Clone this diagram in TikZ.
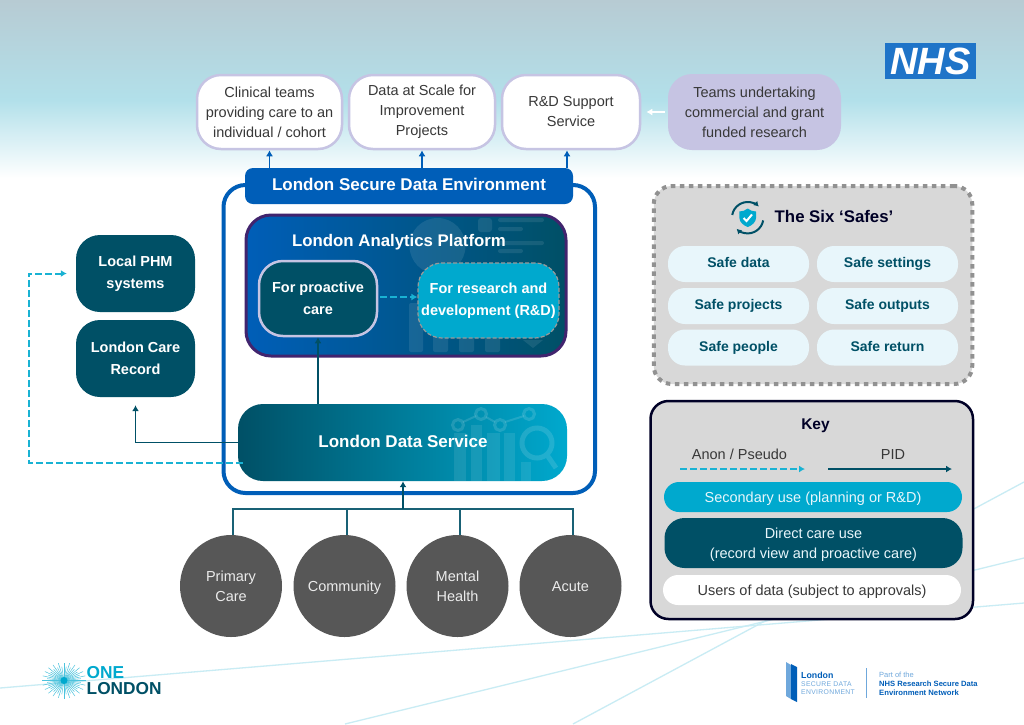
\documentclass[tikz,border=0pt]{standalone}
\usepackage{fontspec}
\setmainfont{Liberation Sans}
\usepackage{tikz}
\usetikzlibrary{arrows.meta}
\definecolor{nhsblue}{HTML}{005EB8}
\definecolor{logoblue}{HTML}{1F74C8}
\definecolor{deepteal}{HTML}{005066}
\definecolor{brightteal}{HTML}{00A9CE}
\definecolor{lavender}{HTML}{C6C4E3}
\definecolor{plum}{HTML}{41246E}
\definecolor{slate}{HTML}{575757}
\definecolor{panel}{HTML}{D8D8D8}
\definecolor{icewhite}{HTML}{E8F6FB}
\definecolor{skyline}{HTML}{C9ECF4}
\definecolor{bodytext}{HTML}{383838}
\definecolor{skytop}{HTML}{B7CBD3}
\definecolor{skymid}{HTML}{B2E0EA}
\definecolor{softblue}{HTML}{6FA8DC}
\begin{document}
\begin{tikzpicture}
    [
    x=1pt,y=-1pt,
    every node/.style={inner sep=0pt,align=center},
    body/.style={font=\fontsize{14.5}{20}\selectfont},
    strong/.style={font=\fontsize{14.5}{22}\selectfont\bfseries},
    userbox/.style={body,draw=lavender,line width=2.5pt,fill=white,rounded corners=24pt,text=bodytext,minimum height=74pt},
    carebox/.style={strong,fill=deepteal,text=white,rounded corners=24pt,minimum width=119pt,minimum height=77pt},
    safepill/.style={font=\fontsize{14}{16}\selectfont\bfseries,fill=icewhite,text=deepteal,rounded corners=17pt,minimum width=141pt,minimum height=36pt,text height=10.2pt,text depth=3pt},
    keypill/.style={body,rounded corners=15pt,minimum width=298pt,text depth=0pt},
    site/.style={circle,body,fill=slate,text=white!92!black,minimum size=102pt},
    flow/.style={line width=1.9pt,-{Latex[length=6pt,width=7pt]}},
    dataline/.style={line width=1.9pt,draw=deepteal!90!white},
    dashflow/.style={flow,line width=2pt,draw=brightteal!90!white,dash pattern=on 7pt off 3pt},
    ghost/.style={draw=none,fill=white,fill opacity=0.09},
    ghostline/.style={draw=white,draw opacity=0.13,fill=none},
    ]
    \useasboundingbox (0,0) rectangle (1024,724);
    \fill [white] (0,0) rectangle (1024,724);
    \shade [top color=skytop,bottom color=skymid] (0,0) rectangle (1024,100);
    \shade [top color=skymid,bottom color=white] (0,100) rectangle (1024,178);

    \draw [skyline,line width=1.3pt] (0,688) -- (1024,603);
    \draw [skyline,line width=1.3pt] (345,724) -- (1024,558);
    \draw [skyline,line width=1.3pt] (573,724) -- (1024,482);

    \node (nhs) at (930.5,61) [fill=logoblue,text=white,minimum width=91pt,minimum height=36pt,text height=26pt,text depth=0pt,font=\fontsize{38}{38}\selectfont\bfseries\itshape] {NHS};

    \node (clin) at (269.5,112) [userbox,minimum width=145pt] {Clinical teams\\providing care to an\\individual / cohort};
    \node (scale) at (422,112) [userbox,minimum width=146pt] {Data at Scale for\\Improvement\\Projects};
    \node (sup) at (571,112) [userbox,minimum width=138pt] {R\&D Support\\Service};
    \node (teams) at (754.5,112) [body,fill=lavender,text=bodytext,rounded corners=24pt,minimum width=173pt,minimum height=76pt] {Teams undertaking\\commercial and grant\\funded research};

    \node (frame) at (409.25,339) [draw=nhsblue,line width=4pt,rounded corners=22pt,minimum width=371.5pt,minimum height=308pt] {};
    \node (sde) at (409,186) [fill=nhsblue,text=white,rounded corners=8pt,minimum width=328pt,minimum height=36pt,text depth=3.5pt,font=\fontsize{17}{20}\selectfont\bfseries] {London Secure Data Environment};

    \node (lap) at (406,285.5) [draw=plum,line width=3pt,left color=nhsblue,right color=deepteal,rounded corners=25pt,minimum width=320pt,minimum height=141pt] {};
    \fill [ghost] (437.5,246) circle (28);
    \fill [ghost,rounded corners=3pt] (478,218) rectangle (492,232);
    \fill [ghost,rounded corners=2pt] (498,218) rectangle (544,222);
    \fill [ghost,rounded corners=2pt] (498,227) rectangle (523,231);
    \fill [ghost,rounded corners=2pt] (498,241) rectangle (544,245);
    \fill [ghost,rounded corners=2pt] (498,249) rectangle (523,253);
    \fill [ghost,rounded corners=2pt] (409,303) rectangle (423,352);
    \fill [ghost,rounded corners=2pt] (433,320) rectangle (448,352);
    \fill [ghost,rounded corners=2pt] (459,320) rectangle (474,352);
    \fill [ghost,rounded corners=2pt] (485,320) rectangle (500,352);
    \fill [ghost] (523,340) -- (543,340) -- (533,348) -- cycle;
    \node (laptitle) at (399,242) [text=white,font=\fontsize{16.8}{20}\selectfont\bfseries] {London Analytics Platform};
    \node (pro) at (318,298.5) [strong,draw=lavender,line width=2.5pt,fill=deepteal,text=white,rounded corners=24pt,minimum width=118pt,minimum height=75pt] {For proactive\\care};
    \node (res) at (488.5,300.5) [strong,draw=black!40,line width=1.2pt,dash pattern=on 4pt off 2pt,fill=brightteal,text=white,rounded corners=24pt,minimum width=141pt,minimum height=75pt] {For research and\\development (R\&D)};

    \node (lds) at (402.5,442.5) [left color=deepteal,right color=brightteal,rounded corners=25pt,minimum width=329pt,minimum height=77pt] {};
    \fill [ghost] (454,433) rectangle (466,481);
    \fill [ghost] (471,425) rectangle (482,481);
    \fill [ghost] (487,433) rectangle (500,481);
    \fill [ghost] (504,433) rectangle (515,481);
    \fill [ghost] (521,462) rectangle (531,481);
    \draw [ghostline,line width=3pt] (458,425) circle (5.5) (481,414) circle (5.5) (500,425) circle (5.5) (529,414) circle (5.5);
    \draw [ghostline,line width=2pt] (463,422) -- (476,416) (486,417) -- (495,422) (505,422) -- (524,416);
    \draw [ghostline,line width=5pt] (537,443) circle (15) (547,455) -- (556,468);
    \node (ldstitle) at (403,441) [text=white,font=\fontsize{17}{20}\selectfont\bfseries] {London Data Service};

    \node (phm) at (135.5,273.5) [carebox] {Local PHM\\systems};
    \node (rec) at (135.5,358.5) [carebox] {London Care\\Record};

    \node (prim) at (231,586) [site] {Primary\\Care};
    \node (comm) at (344.5,586) [site,text depth=0pt] {Community};
    \node (ment) at (457.5,586) [site] {Mental\\Health};
    \node (acut) at (570.5,586) [site,text depth=0pt] {Acute};

    \coordinate (bus) at (403,509);
    \coordinate (corner) at (28.5,273.5);

    \draw [flow,draw=nhsblue] (sde.north -| clin.south) -- (clin.south);
    \draw [flow,draw=nhsblue] (sde.north -| scale.south) -- (scale.south);
    \draw [flow,draw=nhsblue] ([xshift=-4pt]sup.south |- sde.north) -- ([xshift=-4pt]sup.south);
    \draw [flow,draw=white,shorten >=5pt,shorten <=3pt] (teams.west) -- (sup.east);

    \draw [dashflow,shorten <=2pt] ([yshift=1.5pt]pro.east) -- ([yshift=1.5pt]pro.east -| res.west);
    \draw [flow,draw=deepteal] (lds.north -| pro.south) -- (pro.south);
    \draw [flow,draw=deepteal,shorten >=8pt] (lds.west) -| (rec.south);
    \draw [dashflow,shorten >=9pt] ([xshift=5pt,yshift=-20pt]lds.west) -| (corner) -- (phm.west);

    \draw [dataline] ([xshift=2pt]prim.north) |- (bus);
    \draw [dataline] ([xshift=2.5pt]comm.north) |- (bus);
    \draw [dataline] ([xshift=2.5pt]ment.north) |- (bus);
    \draw [dataline] ([xshift=2.5pt]acut.north) |- (bus);
    \draw [flow,draw=deepteal] (bus) -- (bus |- lds.south);

    \node (safes) at (813,285) [draw=black!43,line width=4pt,dash pattern=on 4.5pt off 4.5pt,fill=panel,rounded corners=18pt,minimum width=318.5pt,minimum height=198pt] {};
    \node (safetitle) at (834,216) [text=black!85!blue,font=\fontsize{16.8}{20}\selectfont\bfseries] {The Six ‘Safes’};
    \draw [deepteal,line width=2pt,-{Latex[length=5pt,width=6pt]}] (747.7,217.7) ++(-170:15.7) arc [start angle=-170,end angle=-45,radius=15.7];
    \draw [deepteal,line width=2pt,-{Latex[length=5pt,width=6pt]}] (747.7,217.7) ++(10:15.7) arc [start angle=10,end angle=135,radius=15.7];
    \fill [brightteal] (747.7,208.5) .. controls (750,210.5) and (753,211.5) .. (756,211.5) -- (756,218) .. controls (756,222) and (752,225.5) .. (747.7,227) .. controls (743.4,225.5) and (739.4,222) .. (739.4,218) -- (739.4,211.5) .. controls (742.4,211.5) and (745.4,210.5) .. (747.7,208.5) -- cycle;
    \draw [white,line width=2pt] (743.6,218) -- (746.5,221) -- (752,214.5);

    \node (sdata) at (738.5,264) [safepill] {Safe data};
    \node (sset) at (887.5,264) [safepill] {Safe settings};
    \node (sproj) at (738.5,306) [safepill] {Safe projects};
    \node (sout) at (887.5,306) [safepill] {Safe outputs};
    \node (speop) at (738.5,347.5) [safepill] {Safe people};
    \node (sret) at (887.5,347.5) [safepill] {Safe return};

    \node (key) at (811.75,510) [draw=black!85!blue,line width=2.5pt,fill=panel,rounded corners=18pt,minimum width=322.5pt,minimum height=218pt] {};
    \node (keytitle) at (815.5,426) [text=black!85!blue,font=\fontsize{15.5}{20}\selectfont\bfseries] {Key};
    \node (anon) at (739.5,454.5) [body,text=bodytext] {Anon / Pseudo};
    \node (pid) at (893,454.5) [body,text=bodytext] {PID};
    \coordinate (anonl) at (680,469);
    \coordinate (anonr) at (805,469);
    \coordinate (pidl) at (828,469);
    \coordinate (pidr) at (952,469);
    \draw [dashflow] (anonl) -- (anonr);
    \draw [flow,draw=deepteal] (pidl) -- (pidr);
    \node (second) at (813,497) [keypill,fill=brightteal,text=icewhite,minimum height=30pt] {Secondary use (planning or R\&D)};
    \node (direct) at (813.5,543) [keypill,fill=deepteal,text=icewhite,minimum height=50pt,rounded corners=20pt] {Direct care use\\(record view and proactive care)};
    \node (users) at (812,590) [keypill,fill=white,text=bodytext,minimum height=30pt] {Users of data (subject to approvals)};

    \foreach \a in {0,15,...,345} {
        \draw [brightteal!70!white,line width=0.5pt] (64,680.5) -- ++(\a:22 and 18);
        \draw [brightteal!70!white,line width=0.5pt] (64,680.5) -- ++(\a+7.5:17 and 14);
    }
    \fill [brightteal] (64,680.5) circle (3.5);
    \node (onelondon) at (86.5,681) [anchor=west,align=left,font=\fontsize{17.3}{16}\selectfont\bfseries] {\textcolor{brightteal}{ONE}\\\textcolor{deepteal}{LONDON}};

    \fill [softblue] (786,662) -- (791,665) -- (791,699) -- (786,696) -- cycle;
    \fill [nhsblue] (791,664) -- (797,667) -- (797,702) -- (791,699) -- cycle;
    \node (sdel) at (801,675) [anchor=west,text=nhsblue,font=\fontsize{8.8}{10}\selectfont\bfseries] {London};
    \node (sdes) at (801,684.5) [anchor=west,text=softblue,font=\fontsize{6.8}{8}\selectfont\addfontfeature{LetterSpace=5}] {SECURE DATA};
    \node (sdee) at (801,692.5) [anchor=west,text=softblue,font=\fontsize{6.8}{8}\selectfont\addfontfeature{LetterSpace=5}] {ENVIRONMENT};
    \draw [softblue,line width=0.8pt] (866.3,668) -- (866.3,698);
    \node (part) at (879,674.5) [anchor=west,text=softblue,font=\fontsize{7.5}{8}\selectfont] {Part of the};
    \node (netw) at (879,684) [anchor=west,text=nhsblue,font=\fontsize{7.6}{8}\selectfont\bfseries] {NHS Research Secure Data};
    \node (netx) at (879,693) [anchor=west,text=nhsblue,font=\fontsize{7.7}{8}\selectfont\bfseries] {Environment Network};
\end{tikzpicture}
\end{document}
